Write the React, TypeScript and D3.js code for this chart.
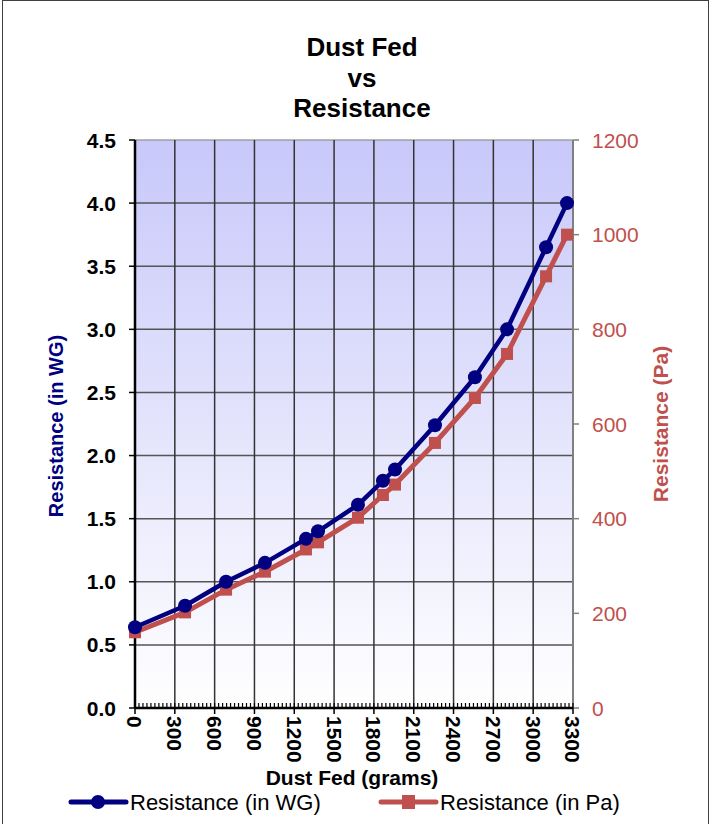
import React, { useEffect, useRef } from "react";
import * as d3 from "d3";

// values
const dustFed = [0, 377, 686, 979, 1288, 1379, 1680, 1868, 1959, 2260, 2561, 2803, 3097, 3255];
const resistWG = [0.64, 0.81, 1.0, 1.15, 1.34, 1.4, 1.61, 1.8, 1.89, 2.24, 2.62, 3.0, 3.65, 4.0];
const resistPa = [160, 202, 250, 288, 335, 350, 402, 450, 472, 560, 655, 748, 912, 1000];
const xTicks = [0, 300, 600, 900, 1200, 1500, 1800, 2100, 2400, 2700, 3000, 3300];
const yTicksWG = [0, 0.5, 1, 1.5, 2, 2.5, 3, 3.5, 4, 4.5];
const yTicksPa = [0, 200, 400, 600, 800, 1000, 1200];
const titleLines = ["Dust Fed", "vs", "Resistance"];

const W = 715, H = 824;
const BLUE = "#000080";
const RED = "#c0504d";
const FONT = "'Liberation Sans', Arial, sans-serif";

export default function App() {
  const ref = useRef<SVGSVGElement>(null);

  useEffect(() => {
    const svg = d3.select(ref.current);
    svg.selectAll("*").remove();

    const left = 135, right = 573, top = 140, bottom = 708;
    const x = d3.scaleLinear().domain([0, 3300]).range([left, right]);
    const yL = d3.scaleLinear().domain([0, 4.5]).range([bottom, top]);
    const yR = d3.scaleLinear().domain([0, 1200]).range([bottom, top]);

    // outer frame
    svg.append("rect").attr("x", 2.5).attr("y", 0.5).attr("width", 706).attr("height", 830)
      .attr("fill", "#fff").attr("stroke", "#404040").attr("stroke-width", 1);

    const defs = svg.append("defs");
    const grad = defs.append("linearGradient").attr("id", "bg").attr("x1", 0).attr("y1", 0).attr("x2", 0).attr("y2", 1);
    grad.append("stop").attr("offset", "0%").attr("stop-color", "#c8c8fa");
    grad.append("stop").attr("offset", "100%").attr("stop-color", "#ffffff");

    svg.append("rect").attr("x", left).attr("y", top).attr("width", right - left).attr("height", bottom - top)
      .attr("fill", "url(#bg)");

    // grid
    svg.append("g").selectAll("line").data(yTicksWG.slice(1)).join("line")
      .attr("x1", left).attr("x2", right).attr("y1", d => yL(d)).attr("y2", d => yL(d))
      .attr("stroke", d => (d === 4.5 ? "#a0a0a0" : "#555")).attr("stroke-width", 1.5);
    svg.append("g").selectAll("line").data(xTicks.slice(1, -1)).join("line")
      .attr("x1", d => x(d)).attr("x2", d => x(d)).attr("y1", top).attr("y2", bottom)
      .attr("stroke", "#333").attr("stroke-width", 1.5);

    // right axis
    svg.append("line").attr("x1", right).attr("x2", right).attr("y1", top).attr("y2", bottom)
      .attr("stroke", "#808080").attr("stroke-width", 2);
    svg.append("g").selectAll("line").data(yTicksPa).join("line")
      .attr("x1", right).attr("x2", right + 6).attr("y1", d => yR(d)).attr("y2", d => yR(d))
      .attr("stroke", "#808080").attr("stroke-width", 1.5);
    svg.append("g").selectAll("text").data(yTicksPa).join("text")
      .attr("x", 592).attr("y", d => yR(d)).attr("dy", "0.36em")
      .attr("fill", RED).attr("font-family", FONT).attr("font-size", 21)
      .text(d => d);

    // minor x ticks
    svg.append("g").selectAll("line").data(d3.range(0, 3301, 30)).join("line")
      .attr("x1", d => x(d)).attr("x2", d => x(d)).attr("y1", bottom).attr("y2", bottom - 5)
      .attr("stroke", "#000").attr("stroke-width", 1.2);

    // left axis
    svg.append("line").attr("x1", left).attr("x2", left).attr("y1", top).attr("y2", bottom)
      .attr("stroke", "#000").attr("stroke-width", 2.5);
    svg.append("g").selectAll("line").data(yTicksWG).join("line")
      .attr("x1", left - 6).attr("x2", left).attr("y1", d => yL(d)).attr("y2", d => yL(d))
      .attr("stroke", "#000").attr("stroke-width", 1.5);
    svg.append("g").selectAll("text").data(yTicksWG).join("text")
      .attr("x", 116).attr("y", d => yL(d)).attr("dy", "0.36em").attr("text-anchor", "end")
      .attr("font-family", FONT).attr("font-size", 21).attr("font-weight", "bold")
      .text(d => d3.format(".1f")(d));

    // bottom axis
    svg.append("line").attr("x1", left).attr("x2", right).attr("y1", bottom).attr("y2", bottom)
      .attr("stroke", "#000").attr("stroke-width", 2.5);
    svg.append("g").selectAll("line").data(xTicks).join("line")
      .attr("x1", d => x(d)).attr("x2", d => x(d)).attr("y1", bottom).attr("y2", bottom + 6)
      .attr("stroke", "#000").attr("stroke-width", 1.5);
    svg.append("g").selectAll("text").data(xTicks).join("text")
      .attr("transform", d => `translate(${x(d)},716) rotate(90)`)
      .attr("dy", "0.36em")
      .attr("font-family", FONT).attr("font-size", 21).attr("font-weight", "bold")
      .text(d => d);

    // series
    const lineWG = d3.line<number>().x((_, i) => x(dustFed[i])).y(d => yL(d));
    const linePa = d3.line<number>().x((_, i) => x(dustFed[i])).y(d => yR(d));
    svg.append("path").attr("d", linePa(resistPa)).attr("fill", "none")
      .attr("stroke", RED).attr("stroke-width", 5).attr("stroke-linejoin", "round");
    svg.append("g").selectAll("rect").data(resistPa).join("rect")
      .attr("x", (_, i) => x(dustFed[i]) - 6).attr("y", d => yR(d) - 6)
      .attr("width", 12).attr("height", 12).attr("fill", RED);
    svg.append("path").attr("d", lineWG(resistWG)).attr("fill", "none")
      .attr("stroke", BLUE).attr("stroke-width", 4.5).attr("stroke-linejoin", "round");
    svg.append("g").selectAll("circle").data(resistWG).join("circle")
      .attr("cx", (_, i) => x(dustFed[i])).attr("cy", d => yL(d)).attr("r", 7).attr("fill", BLUE);

    // titles
    svg.append("g").selectAll("text").data(titleLines).join("text")
      .attr("x", 362).attr("y", (_, i) => 56 + i * 30.5).attr("text-anchor", "middle")
      .attr("font-family", FONT).attr("font-size", 26).attr("font-weight", "bold")
      .text(d => d);
    svg.append("text").attr("x", 352).attr("y", 785).attr("text-anchor", "middle")
      .attr("font-family", FONT).attr("font-size", 21).attr("font-weight", "bold")
      .text("Dust Fed (grams)");
    svg.append("text").attr("transform", "translate(63,426) rotate(-90)").attr("text-anchor", "middle")
      .attr("font-family", FONT).attr("font-size", 20).attr("font-weight", "bold").attr("fill", BLUE)
      .text("Resistance (in WG)");
    svg.append("text").attr("transform", "translate(668,424) rotate(-90)").attr("text-anchor", "middle")
      .attr("font-family", FONT).attr("font-size", 21).attr("font-weight", "bold").attr("fill", RED)
      .text("Resistance (Pa)");

    // legend
    const lg = svg.append("g");
    lg.append("line").attr("x1", 71).attr("x2", 126).attr("y1", 802).attr("y2", 802)
      .attr("stroke", BLUE).attr("stroke-width", 5).attr("stroke-linecap", "round");
    lg.append("circle").attr("cx", 98).attr("cy", 802).attr("r", 7).attr("fill", BLUE);
    lg.append("text").attr("x", 130).attr("y", 802).attr("dy", "0.36em")
      .attr("font-family", FONT).attr("font-size", 22).text("Resistance (in WG)");
    lg.append("line").attr("x1", 381).attr("x2", 436).attr("y1", 802).attr("y2", 802)
      .attr("stroke", RED).attr("stroke-width", 5).attr("stroke-linecap", "round");
    lg.append("rect").attr("x", 402).attr("y", 795).attr("width", 13).attr("height", 14).attr("fill", RED);
    lg.append("text").attr("x", 440).attr("y", 802).attr("dy", "0.36em")
      .attr("font-family", FONT).attr("font-size", 22).text("Resistance (in Pa)");
  }, []);

  return (
    <svg ref={ref} width={W} height={H}
      style={{ position: "absolute", left: 0, top: 0, background: "#fff" }} />
  );
}
